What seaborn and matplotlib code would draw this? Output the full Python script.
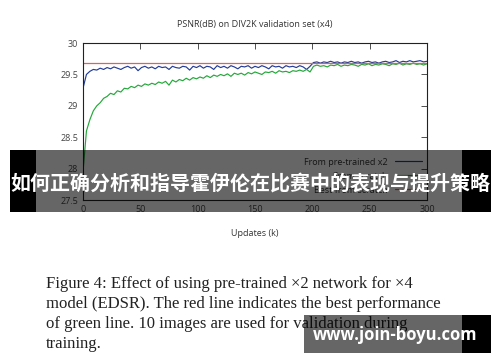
import numpy as np
import pandas as pd
import seaborn as sns
import matplotlib
matplotlib.use("Agg")
import matplotlib.pyplot as plt
from matplotlib.patches import Rectangle

# ---- data ----
updates = list(range(0, 301, 3))  # k updates

psnr_pretrained = [
    29.28, 29.50, 29.55, 29.58, 29.57, 29.60, 29.58, 29.61, 29.59, 29.62,
    29.60, 29.58, 29.61, 29.63, 29.60, 29.62, 29.56, 29.61, 29.63, 29.60,
    29.62, 29.59, 29.63, 29.61, 29.62, 29.58, 29.63, 29.61, 29.60, 29.63,
    29.62, 29.57, 29.63, 29.61, 29.64, 29.60, 29.63, 29.62, 29.58, 29.64,
    29.61, 29.63, 29.60, 29.64, 29.62, 29.59, 29.63, 29.62, 29.64, 29.60,
    29.63, 29.61, 29.64, 29.62, 29.59, 29.64, 29.62, 29.63, 29.60, 29.64,
    29.62, 29.63, 29.61, 29.64, 29.62, 29.58, 29.63, 29.69, 29.70, 29.68,
    29.70, 29.69, 29.71, 29.69, 29.70, 29.68, 29.70, 29.69, 29.71, 29.69,
    29.70, 29.68, 29.70, 29.71, 29.69, 29.70, 29.68, 29.70, 29.71, 29.69,
    29.70, 29.72, 29.69, 29.71, 29.70, 29.72, 29.70, 29.71, 29.72, 29.70,
    29.71,
]
psnr_scratch = [
    27.95, 28.60, 28.78, 28.92, 29.00, 29.05, 29.12, 29.15, 29.20, 29.18,
    29.24, 29.22, 29.28, 29.27, 29.31, 29.29, 29.33, 29.31, 29.35, 29.33,
    29.36, 29.34, 29.38, 29.36, 29.39, 29.33, 29.41, 29.38, 29.42, 29.40,
    29.44, 29.41, 29.45, 29.43, 29.46, 29.44, 29.48, 29.45, 29.49, 29.47,
    29.50, 29.48, 29.51, 29.47, 29.52, 29.50, 29.52, 29.49, 29.53, 29.51,
    29.54, 29.52, 29.50, 29.54, 29.53, 29.55, 29.52, 29.56, 29.54, 29.55,
    29.53, 29.56, 29.55, 29.57, 29.55, 29.58, 29.54, 29.63, 29.65, 29.63,
    29.64, 29.62, 29.65, 29.64, 29.66, 29.63, 29.65, 29.64, 29.66, 29.65,
    29.63, 29.66, 29.65, 29.67, 29.64, 29.66, 29.65, 29.67, 29.66, 29.64,
    29.67, 29.66, 29.68, 29.65, 29.67, 29.66, 29.68, 29.66, 29.67, 29.65,
    29.67,
]
best_scratch = 29.685

series_labels = ["From pre-trained x2", "From scratch", "Best from scratch"]
title = "PSNR(dB) on DIV2K validation set (x4)"
xlabel = "Updates (k)"
xticks = [0, 50, 100, 150, 200, 250, 300]
yticks = [27.5, 28, 28.5, 29, 29.5, 30]

caption_lines = [
    "Figure 4: Effect of using pre-trained \u00d72 network for \u00d74",
    "model (EDSR). The red line indicates the best performance",
    "of green line. 10 images are used for validation during",
    "training.",
]
banner_text = "如何正确分析和指导霍伊伦在比赛中的表现与提升策略"
watermark = "www.join-boyu.com"

# ---- plot ----
sns.set_style("white")
plt.rcParams["font.family"] = ["Open Sans", "DejaVu Sans"]

df = pd.DataFrame({
    "updates": updates * 2,
    "psnr": psnr_pretrained + psnr_scratch,
    "run": [series_labels[0]] * len(updates) + [series_labels[1]] * len(updates),
})

fig = plt.figure(figsize=(5, 3.62), dpi=100)
ax = fig.add_axes([0.166, 0.4475, 0.688, 0.4335])

palette = {series_labels[0]: "#233c96", series_labels[1]: "#24a83a"}
sns.lineplot(data=df, x="updates", y="psnr", hue="run", palette=palette,
             linewidth=0.85, ax=ax)
ax.axhline(best_scratch, color="#e0605a", lw=0.9, label=series_labels[2])

ax.set_xlim(0, 300)
ax.set_ylim(27.5, 30)
ax.set_xticks(xticks)
ax.set_yticks(yticks)
ax.set_yticklabels([f"{v:g}" for v in yticks])
ax.tick_params(direction="in", length=4, width=0.6, top=True, right=True,
               labelsize=6.5, labelcolor="#444444", color="#333333")
for s in ax.spines.values():
    s.set_color("#222222")
    s.set_linewidth(0.8)
ax.set_xlabel(xlabel, fontsize=6.5, color="#333333", labelpad=11)
ax.set_ylabel("")

handles, labels = ax.get_legend_handles_labels()
ax.legend(handles, labels, loc="lower right", frameon=False, markerfirst=False,
          fontsize=6.5, handlelength=3.0, labelspacing=0.55, borderaxespad=0.2,
          bbox_to_anchor=(1.0, 0.0), labelcolor="#333333")

fig.text(0.51, 0.931, title, ha="center", va="center", fontsize=6.5, color="#333333")

# caption
for i, line in enumerate(caption_lines):
    fig.text(0.092, 1 - (288 + 20 * i) / 362, line, ha="left", va="baseline",
             fontsize=12, family="Liberation Serif", color="#222222")

# overlay banner
def px_rect(x0, y0, x1, y1, color, alpha):
    fig.patches.append(Rectangle((x0 / 500, 1 - y1 / 362), (x1 - x0) / 500, (y1 - y0) / 362,
                                 transform=fig.transFigure, color=color, alpha=alpha,
                                 lw=0, zorder=10))

px_rect(10, 150, 36, 212, "black", 1.0)
px_rect(462, 150, 491, 212, "black", 1.0)
px_rect(36, 150, 462, 212, "black", 0.6)
fig.text(0.5, 1 - 183 / 362, banner_text, ha="center", va="center", fontsize=14.4,
         fontweight="bold", color="white",
         family=["Noto Sans CJK SC", "DejaVu Sans"], zorder=11)

# watermark
px_rect(304, 315, 462, 353, "black", 0.6)
px_rect(462, 315, 491, 353, "black", 1.0)
fig.text(395 / 500, 1 - 335 / 362, watermark, ha="center", va="center", fontsize=12,
         fontweight="bold", color="white", family=["Open Sans", "DejaVu Sans"], zorder=11)

fig.savefig("out.png", dpi=100)
